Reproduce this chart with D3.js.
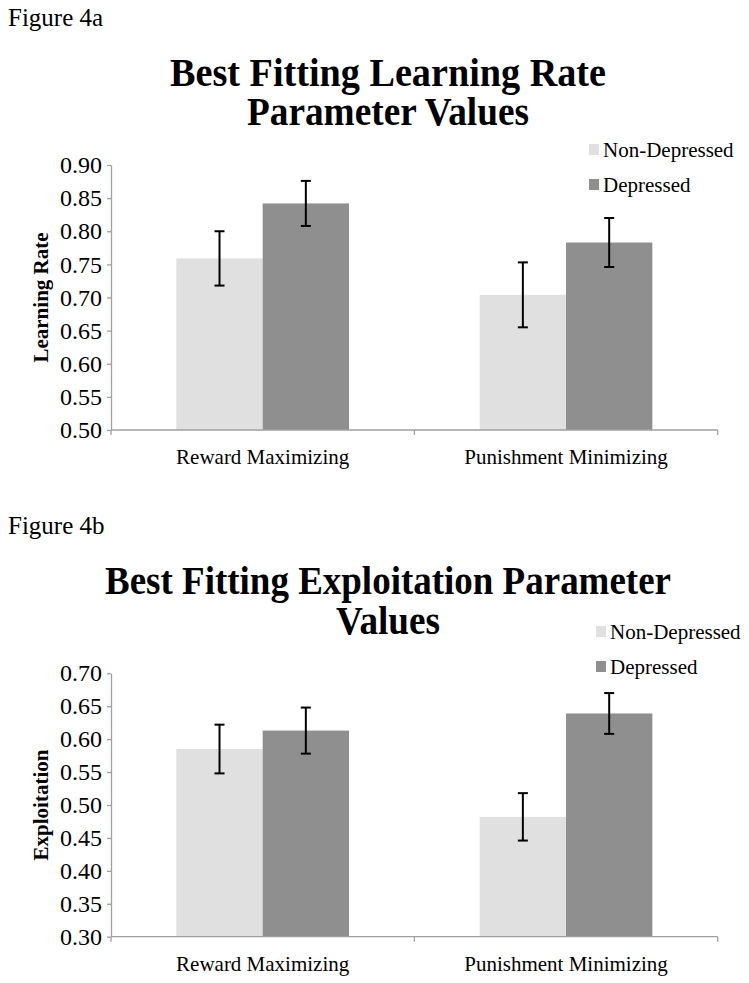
<!DOCTYPE html>
<html>
<head>
<meta charset="utf-8">
<script src="https://cdn.jsdelivr.net/npm/d3@7"></script>
<style>
  html, body { margin: 0; padding: 0; background: #fff; }
  svg { display: block; }
  text { font-family: "Liberation Serif", "Times New Roman", serif; fill: #000; }
</style>
</head>
<body>
<svg id="chart" width="749" height="983"></svg>
<script>
// ---- Data ----
const categories = ["Reward Maximizing", "Punishment Minimizing"];
const seriesNames = ["Non-Depressed", "Depressed"];
const seriesColors = ["#e0e0e0", "#8f8f8f"];

// Figure 4a: learning rate
const learnNonDep = [0.759, 0.704];
const learnNonDepErr = [0.041, 0.049];
const learnDep = [0.842, 0.783];
const learnDepErr = [0.034, 0.037];
const learnTicks = [0.50, 0.55, 0.60, 0.65, 0.70, 0.75, 0.80, 0.85, 0.90];

// Figure 4b: exploitation
const exploitNonDep = [0.585, 0.482];
const exploitNonDepErr = [0.037, 0.036];
const exploitDep = [0.613, 0.639];
const exploitDepErr = [0.035, 0.031];
const exploitTicks = [0.30, 0.35, 0.40, 0.45, 0.50, 0.55, 0.60, 0.65, 0.70];

const svg = d3.select("#chart");

function drawFigure(cfg) {
  const g = svg.append("g");
  // figure label
  g.append("text").attr("x", 8).attr("y", cfg.labelY)
    .attr("font-size", 25).text(cfg.figLabel);
  // title
  cfg.titleLines.forEach((t, i) => {
    const tt = g.append("text").attr("x", 388).attr("y", cfg.titleY[i])
      .attr("text-anchor", "middle").attr("font-size", 39)
      .attr("font-weight", "bold").text(t);
    if (cfg.titleLen[i]) tt.attr("textLength", cfg.titleLen[i]).attr("lengthAdjust", "spacingAndGlyphs");
  });

  const left = 111, right = 717.7;
  const y = d3.scaleLinear().domain([cfg.ticks[0], cfg.ticks[cfg.ticks.length - 1]])
    .range([cfg.bottom, cfg.top]);
  const x0 = d3.scaleBand().domain(categories).range([left, right]).padding(0);
  const x1 = d3.scaleBand().domain(seriesNames).range([0, x0.bandwidth()])
    .paddingInner(0).paddingOuter(0.757);

  const rows = categories.map((c, i) => ({
    cat: c,
    vals: [
      { s: seriesNames[0], v: cfg.nonDep[i], e: cfg.nonDepErr[i] },
      { s: seriesNames[1], v: cfg.dep[i], e: cfg.depErr[i] }
    ]
  }));

  const groups = g.selectAll(".grp").data(rows).enter().append("g")
    .attr("transform", d => `translate(${x0(d.cat)},0)`);
  groups.selectAll("rect").data(d => d.vals).enter().append("rect")
    .attr("x", d => x1(d.s)).attr("width", x1.bandwidth())
    .attr("y", d => y(d.v)).attr("height", d => cfg.bottom - y(d.v))
    .attr("fill", (d, i) => seriesColors[i]);
  // error bars
  const eb = groups.selectAll(".eb").data(d => d.vals).enter().append("g")
    .attr("stroke", "#000").attr("stroke-width", 2);
  eb.append("line")
    .attr("x1", d => x1(d.s) + x1.bandwidth() / 2).attr("x2", d => x1(d.s) + x1.bandwidth() / 2)
    .attr("y1", d => y(d.v + d.e)).attr("y2", d => y(d.v - d.e));
  [1, -1].forEach(sgn => {
    eb.append("line")
      .attr("x1", d => x1(d.s) + x1.bandwidth() / 2 - 5).attr("x2", d => x1(d.s) + x1.bandwidth() / 2 + 5)
      .attr("y1", d => y(d.v + sgn * d.e)).attr("y2", d => y(d.v + sgn * d.e));
  });

  // y axis
  const yAxis = g.append("g").attr("transform", `translate(${left},0)`)
    .call(d3.axisLeft(y).tickValues(cfg.ticks).tickFormat(d3.format(".2f"))
      .tickSizeInner(4).tickSizeOuter(0).tickPadding(5));
  yAxis.select(".domain").attr("stroke", "#a0a0a0").attr("stroke-width", 1.3);
  yAxis.selectAll(".tick line").attr("stroke", "#a0a0a0").attr("stroke-width", 1.3);
  yAxis.selectAll(".tick text").attr("font-size", 24)
    .attr("font-family", "Liberation Serif").attr("fill", "#000");

  // x axis (ticks at category boundaries)
  const bounds = [left, ...categories.slice(1).map(c => x0(c)), right];
  const xAxisG = g.append("g");
  xAxisG.append("line").attr("x1", left).attr("x2", right)
    .attr("y1", cfg.bottom).attr("y2", cfg.bottom)
    .attr("stroke", "#a0a0a0").attr("stroke-width", 1.3);
  xAxisG.selectAll(".xt").data(bounds).enter().append("line")
    .attr("x1", d => d).attr("x2", d => d)
    .attr("y1", cfg.bottom).attr("y2", cfg.bottom + 5)
    .attr("stroke", "#a0a0a0").attr("stroke-width", 1.3);
  xAxisG.selectAll(".xl").data(categories).enter().append("text")
    .attr("x", d => x0(d) + x0.bandwidth() / 2).attr("y", cfg.bottom + 34)
    .attr("text-anchor", "middle").attr("font-size", 21).text(d => d);

  // y title
  g.append("text")
    .attr("transform", `translate(48,${(cfg.top + cfg.bottom) / 2}) rotate(-90)`)
    .attr("text-anchor", "middle").attr("font-size", 21).attr("font-weight", "bold")
    .text(cfg.yTitle);

  // legend
  seriesNames.forEach((s, i) => {
    const ly = cfg.legendY + i * 35;
    g.append("rect").attr("x", cfg.legendX).attr("y", ly - 13).attr("width", 10).attr("height", 11)
      .attr("fill", seriesColors[i]);
    g.append("text").attr("x", cfg.legendX + 14).attr("y", ly)
      .attr("font-size", 21).text(s);
  });
}

drawFigure({
  figLabel: "Figure 4a", labelY: 26,
  titleLines: ["Best Fitting Learning Rate", "Parameter Values"], titleY: [86, 125],
  titleLen: [436, 282],
  top: 165, bottom: 430, ticks: learnTicks,
  nonDep: learnNonDep, nonDepErr: learnNonDepErr, dep: learnDep, depErr: learnDepErr,
  yTitle: "Learning Rate", legendX: 589, legendY: 157
});

drawFigure({
  figLabel: "Figure 4b", labelY: 534,
  titleLines: ["Best Fitting Exploitation Parameter", "Values"], titleY: [594, 634],
  titleLen: [566, 104],
  top: 673.3, bottom: 936.7, ticks: exploitTicks,
  nonDep: exploitNonDep, nonDepErr: exploitNonDepErr, dep: exploitDep, depErr: exploitDepErr,
  yTitle: "Exploitation", legendX: 596, legendY: 639
});
</script>
</body>
</html>
